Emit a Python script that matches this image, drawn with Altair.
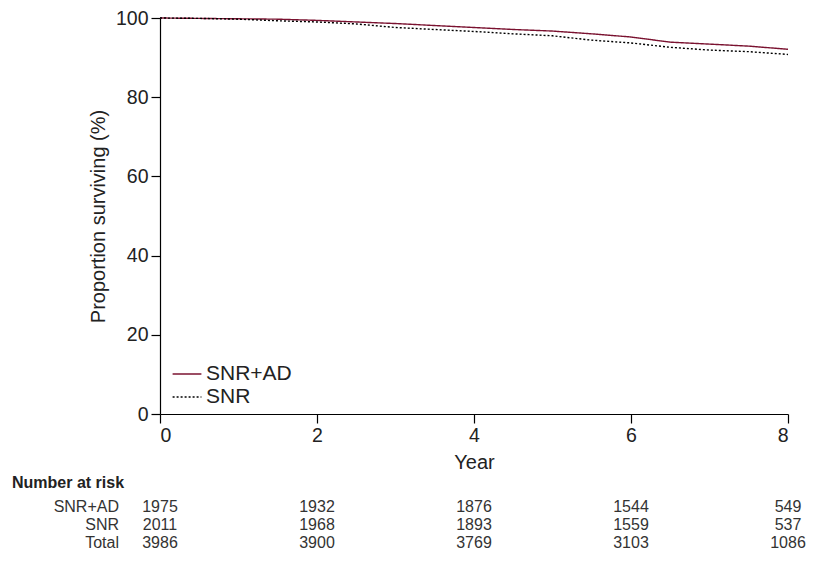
import altair as alt
import pandas as pd

years = [0, 0.5, 1, 1.5, 2, 2.5, 3, 3.5, 4, 4.5, 5, 5.5, 6, 6.5, 7, 7.5, 8]
snr_ad = [100, 99.9, 99.8, 99.7, 99.4, 99.0, 98.6, 98.1, 97.6, 97.1, 96.7, 96.0, 95.2, 93.9, 93.4, 92.9, 92.1]
snr = [100, 99.9, 99.7, 99.3, 99.0, 98.5, 97.6, 97.1, 96.6, 96.0, 95.5, 94.4, 93.7, 92.6, 91.9, 91.5, 90.8]

risk_years = [0, 2, 4, 6, 8]
risk_ad = [1975, 1932, 1876, 1544, 549]
risk_snr = [2011, 1968, 1893, 1559, 537]
risk_total = [3986, 3900, 3769, 3103, 1086]
row_names = ["SNR+AD", "SNR", "Total"]

FONT = "Liberation Sans"
W, H = 628, 396

rows = []
for y, v in zip(years, snr_ad):
    rows.append({"Year": y, "Surv": v, "Group": "SNR+AD"})
for y, v in zip(years, snr):
    rows.append({"Year": y, "Surv": v, "Group": "SNR"})
df = pd.DataFrame(rows)

xscale = alt.Scale(domain=[0, 8], nice=False)

leg = alt.Legend(title=None, orient="none", legendX=14, legendY=343,
                 symbolType="M-1.2,0H1.2", symbolSize=576, symbolStrokeWidth=1.3,
                 symbolFillColor="transparent",
                 labelFontSize=21, labelFont=FONT, labelColor="#222222",
                 rowPadding=0, labelOffset=6)

lines = alt.Chart(df).mark_line(strokeWidth=1.4).encode(
    x=alt.X("Year:Q", scale=xscale,
            axis=alt.Axis(title="Year", values=[0, 2, 4, 6, 8], format="d")),
    y=alt.Y("Surv:Q", scale=alt.Scale(domain=[0, 100], nice=False),
            axis=alt.Axis(title="Proportion surviving (%)", values=[0, 20, 40, 60, 80, 100])),
    color=alt.Color("Group:N",
                    scale=alt.Scale(domain=["SNR+AD", "SNR"], range=["#7a1230", "#000000"]),
                    legend=leg),
    strokeDash=alt.StrokeDash("Group:N",
                              scale=alt.Scale(domain=["SNR+AD", "SNR"], range=[[1, 0], [2, 2]]),
                              legend=leg),
    order=alt.Order("Year:Q"),
)

layers = [lines]

header = alt.Chart(pd.DataFrame({"t": ["Number at risk"]})).mark_text(
    align="left", baseline="middle", fontSize=16, fontWeight="bold", font=FONT, color="#222222"
).encode(x=alt.value(-148), y=alt.value(H + 69), text="t:N")
layers.append(header)

offsets = [93, 111, 129]
for name, vals, off in zip(row_names, [risk_ad, risk_snr, risk_total], offsets):
    lab = alt.Chart(pd.DataFrame({"t": [name]})).mark_text(
        align="right", baseline="middle", fontSize=16, font=FONT, color="#333333"
    ).encode(x=alt.value(-41), y=alt.value(H + off), text="t:N")
    nums = alt.Chart(pd.DataFrame({"Year": risk_years, "n": vals})).mark_text(
        align="center", baseline="middle", fontSize=16, font=FONT, color="#333333"
    ).encode(x=alt.X("Year:Q", scale=xscale), y=alt.value(H + off), text="n:Q")
    layers.extend([lab, nums])

chart = alt.layer(*layers).properties(
    width=W, height=H, padding={"left": 4, "top": 0, "right": 0, "bottom": 0}
).configure_view(stroke=None).configure_axis(
    grid=False, domainColor="#000000", tickColor="#000000", tickSize=9,
    labelFont=FONT, titleFont=FONT, labelFontSize=19.5, titleFontSize=20,
    labelColor="#222222", titleColor="#222222", titleFontWeight="normal",
    domainWidth=1.2, tickWidth=1.2
).configure_axisX(labelPadding=3, titlePadding=8).configure_axisY(labelPadding=3, titlePadding=7)

chart.save("out.html", embed_options={"renderer": "svg", "actions": False})
